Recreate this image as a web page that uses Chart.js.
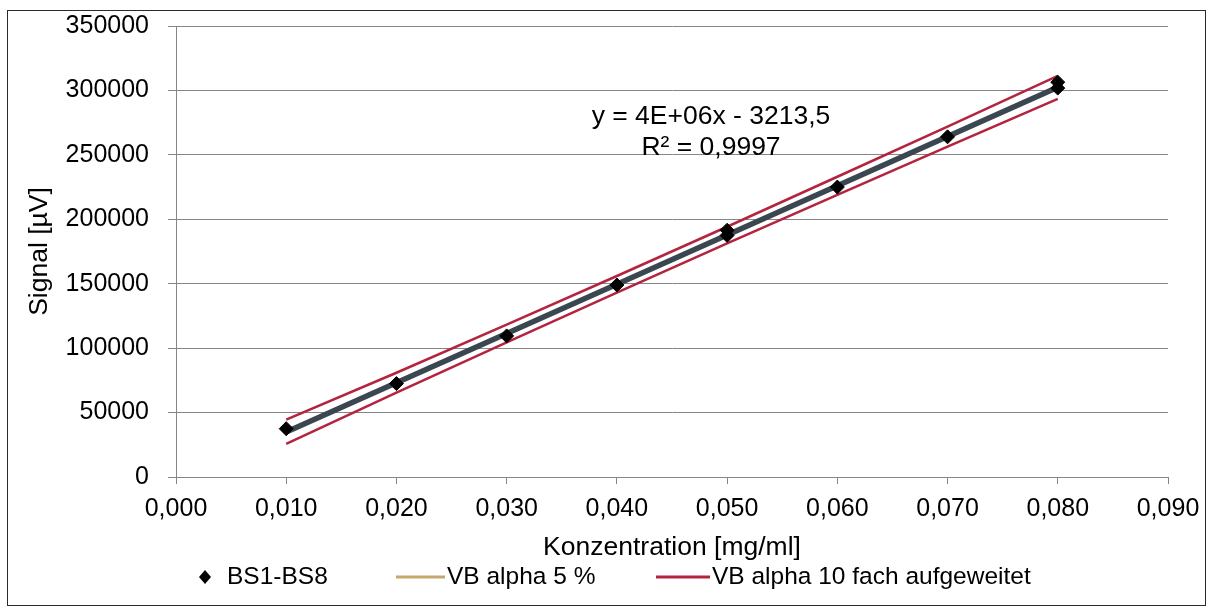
<!DOCTYPE html>
<html>
<head>
<meta charset="utf-8">
<script src="https://cdn.jsdelivr.net/npm/chart.js@4.4.1/dist/chart.umd.min.js"></script>
<style>
  html, body { margin: 0; padding: 0; background: #ffffff; overflow: hidden; }
  #wrap { position: absolute; left: 0; top: 0; width: 1213px; height: 610px; }
</style>
</head>
<body>
<div id="wrap"><canvas id="c" width="1213" height="610"></canvas></div>
<script>
// Calibration standards BS1-BS8 (concentration in mg/ml, signal in µV)
const sampleConc   = [0.01, 0.02, 0.03, 0.04, 0.05, 0.05, 0.06, 0.07, 0.08, 0.08];
const sampleSignal = [37500, 72500, 109500, 149000, 191500, 187500, 225000, 264000, 306400, 301800];

// Concentrations at which the confidence bands are evaluated
const bandConc = [0.01, 0.02, 0.03, 0.04, 0.05, 0.06, 0.07, 0.08];
// Confidence band alpha 5 %
const vb5Upper = [35900, 73960, 112090, 150230, 188430, 226690, 264960, 303280];
const vb5Lower = [34060, 72410, 110690, 148940, 187140, 225290, 263410, 301500];
// Confidence band alpha, widened tenfold
const vb10Upper = [44500, 80900, 118300, 156000, 194200, 233000, 271900, 311300];
const vb10Lower = [25700, 65400, 104400, 143100, 181300, 219000, 256400, 293500];

// Linear regression y = a*x + b
const fitSlope = 3.82e6;
const fitIntercept = -3213.5;
const fitRange = [0.01, 0.08];
const fitLabel = ['y = 4E+06x - 3213,5', 'R\u00b2 = 0,9997'];

// Axis ranges
const xMin = 0, xMax = 0.09, xStep = 0.01;
const yMin = 0, yMax = 350000, yStep = 50000;

const FONT = '"Liberation Sans", Arial, sans-serif';
const TICK_PX = 25;
const TITLE_PX = 26.5;
const LEGEND_PX = 24.5;
const GRID = '#868686';
const RED = '#b3243f';
const TAN = '#c3a76b';
const SLATE = '#3a4750';

const toPts = (xs, ys) => xs.map((x, i) => ({ x: x, y: ys[i] }));
const fitPts = fitRange.map(x => ({ x: x, y: fitSlope * x + fitIntercept }));

const frame = {
  id: 'frame',
  beforeDraw(chart) {
    const ctx = chart.ctx;
    ctx.save();
    ctx.fillStyle = '#ffffff';
    ctx.fillRect(0, 0, chart.width, chart.height);
    ctx.strokeStyle = '#2b2b2b';
    ctx.lineWidth = 1;
    ctx.strokeRect(7.5, 10.5, 1198, 595);
    ctx.restore();
  }
};

const equation = {
  id: 'equation',
  afterDraw(chart) {
    const ctx = chart.ctx;
    ctx.save();
    ctx.font = TITLE_PX + 'px ' + FONT;
    ctx.fillStyle = '#000000';
    ctx.textAlign = 'center';
    ctx.textBaseline = 'middle';
    ctx.fillText(fitLabel[0], 711, 117);
    ctx.fillText(fitLabel[1], 711, 148);
    ctx.restore();
  }
};

const legendRow = {
  id: 'legendRow',
  afterDraw(chart) {
    const ctx = chart.ctx;
    const y = 577;
    ctx.save();
    ctx.font = LEGEND_PX + 'px ' + FONT;
    ctx.fillStyle = '#000000';
    ctx.textAlign = 'left';
    ctx.textBaseline = 'middle';
    // scatter entry
    ctx.beginPath();
    ctx.moveTo(205 - 6, y);
    ctx.lineTo(205, y - 7);
    ctx.lineTo(205 + 6, y);
    ctx.lineTo(205, y + 7);
    ctx.closePath();
    ctx.fill();
    ctx.fillText(chart.data.datasets[0].label, 227, y);
    // band entries
    const entries = [
      { ds: 3, x0: 396, x1: 445, tx: 447 },
      { ds: 1, x0: 656, x1: 710, tx: 712 }
    ];
    entries.forEach(e => {
      const d = chart.data.datasets[e.ds];
      ctx.strokeStyle = d.borderColor;
      ctx.lineWidth = 3;
      ctx.beginPath();
      ctx.moveTo(e.x0, y);
      ctx.lineTo(e.x1, y);
      ctx.stroke();
      ctx.fillText(d.label, e.tx, y);
    });
    ctx.restore();
  }
};

new Chart(document.getElementById('c'), {
  type: 'scatter',
  data: {
    datasets: [
      {
        label: 'BS1-BS8',
        data: toPts(sampleConc, sampleSignal),
        showLine: false,
        pointStyle: 'rectRot',
        pointRadius: 7,
        backgroundColor: '#000000',
        borderColor: '#000000',
        borderWidth: 1,
        order: 0
      },
      {
        label: 'VB alpha 10 fach aufgeweitet',
        data: toPts(bandConc, vb10Upper),
        showLine: true, pointRadius: 0, borderColor: RED, borderWidth: 2.5,
        tension: 0, order: 3
      },
      {
        label: 'VB alpha 10 fach aufgeweitet',
        data: toPts(bandConc, vb10Lower),
        showLine: true, pointRadius: 0, borderColor: RED, borderWidth: 2.5,
        tension: 0, order: 3
      },
      {
        label: 'VB alpha 5 %',
        data: toPts(bandConc, vb5Upper),
        showLine: true, pointRadius: 0, borderColor: TAN, borderWidth: 2.5,
        tension: 0, order: 2
      },
      {
        label: 'VB alpha 5 %',
        data: toPts(bandConc, vb5Lower),
        showLine: true, pointRadius: 0, borderColor: TAN, borderWidth: 2.5,
        tension: 0, order: 2
      },
      {
        label: 'Linear (BS1-BS8)',
        data: fitPts,
        showLine: true, pointRadius: 0, borderColor: SLATE, borderWidth: 5.5,
        tension: 0, order: 1
      }
    ]
  },
  options: {
    responsive: false,
    animation: false,
    devicePixelRatio: 1,
    layout: { padding: { top: 26, right: 45, bottom: 42.1, left: 0 } },
    plugins: {
      legend: { display: false },
      tooltip: { enabled: false }
    },
    scales: {
      x: {
        type: 'linear',
        min: xMin, max: xMax,
        afterFit(scale) {
          scale.height = 90.9;
          scale.paddingLeft = 0;
          scale.paddingRight = 0;
        },
        ticks: {
          stepSize: xStep,
          padding: 10.5,
          color: '#000000',
          font: { family: FONT, size: TICK_PX },
          maxRotation: 0,
          callback: v => v.toFixed(3).replace('.', ',')
        },
        grid: { drawOnChartArea: false, drawTicks: true, tickLength: 7, color: GRID },
        border: { display: true, color: GRID, width: 1 },
        title: {
          display: true,
          text: 'Konzentration [mg/ml]',
          color: '#000000',
          font: { family: FONT, size: TITLE_PX },
          padding: { top: 4, bottom: 4 }
        }
      },
      y: {
        type: 'linear',
        min: yMin, max: yMax,
        afterFit(scale) {
          scale.width = 176;
          scale.paddingTop = 0;
          scale.paddingBottom = 0;
        },
        ticks: {
          stepSize: yStep,
          padding: 19,
          color: '#000000',
          font: { family: FONT, size: TICK_PX },
          callback: v => String(v)
        },
        grid: { drawOnChartArea: true, drawTicks: true, tickLength: 8, color: GRID },
        border: { display: true, color: GRID, width: 1 },
        title: {
          display: true,
          text: 'Signal [\u00b5V]',
          color: '#000000',
          font: { family: FONT, size: TITLE_PX },
          padding: { top: 24, bottom: 0 }
        }
      }
    }
  },
  plugins: [frame, equation, legendRow]
});
</script>
</body>
</html>
